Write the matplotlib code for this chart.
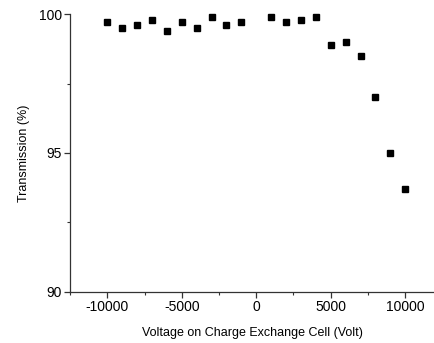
import numpy as np
import matplotlib.pyplot as plt
from matplotlib.ticker import MultipleLocator

plt.rcParams['font.family'] = ['Liberation Sans', 'DejaVu Sans']
plt.rcParams['axes.unicode_minus'] = False

# voltage on charge exchange cell (V) and transmission (%)
voltage = [-10000, -9000, -8000, -7000, -6000, -5000, -4000, -3000, -2000, -1000,
           1000, 2000, 3000, 4000, 5000, 6000, 7000, 8000, 9000, 10000]
transmission = [99.7, 99.5, 99.6, 99.8, 99.4, 99.7, 99.5, 99.9, 99.6, 99.7,
                99.9, 99.7, 99.8, 99.9, 98.9, 99.0, 98.5, 97.0, 95.0, 93.7]

fig = plt.figure(figsize=(4.35, 3.43), dpi=100)
ax = fig.add_axes([0.161, 0.149, 0.839, 0.81])

ax.plot(voltage, transmission, linestyle='none', marker='s', markersize=4.8,
        color='black', clip_on=False)

ax.set_xlim(-12500, 12000)
ax.set_ylim(90, 100)
ax.xaxis.set_major_locator(MultipleLocator(5000))
ax.xaxis.set_minor_locator(MultipleLocator(2500))
ax.yaxis.set_major_locator(MultipleLocator(5))
ax.yaxis.set_minor_locator(MultipleLocator(2.5))

for s in ['top', 'right']:
    ax.spines[s].set_visible(False)
for s in ['left', 'bottom']:
    ax.spines[s].set_color('#333333')
    ax.spines[s].set_linewidth(0.9)

ax.tick_params(which='major', direction='out', length=4, width=0.9, color='#333333',
               labelsize=10, pad=2)
ax.tick_params(which='minor', direction='out', length=2.5, width=0.8, color='#333333')

ax.set_xlabel('Voltage on Charge Exchange Cell (Volt)', fontsize=9, labelpad=9)
ax.set_ylabel('Transmission (%)', fontsize=9, labelpad=6)

fig.savefig('out.png', dpi=100)
